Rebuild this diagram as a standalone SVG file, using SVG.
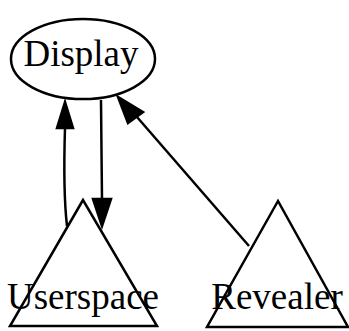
<svg xmlns="http://www.w3.org/2000/svg" width="349" height="331" viewBox="0 0 349 331">
  <defs>
    <style>
      .shape { fill: #ffffff; stroke: #000000; stroke-width: 2.5; }
      .edge { fill: none; stroke: #000000; stroke-width: 2.5; }
      .head { fill: #000000; stroke: #000000; stroke-width: 2.5; stroke-linejoin: miter; }
      .label { font-family: "Liberation Serif", "Times New Roman", serif; font-size: 37px; fill: #000000; text-anchor: middle; }
    </style>
  </defs>
  <rect width="349" height="331" fill="#ffffff"/>
  <g id="edges">
    <!-- Userspace -> Display -->
    <path class="edge" d="M67,226 C64,200 64,160 65,128"/>
    <polygon class="head" points="65,102 57,128 73,128"/>
    <!-- Display -> Userspace -->
    <path class="edge" d="M101,100 C101,130 102,170 102,199"/>
    <polygon class="head" points="102,226 93,199 111,199"/>
    <!-- Revealer -> Display -->
    <path class="edge" d="M249,246 L137,117"/>
    <polygon class="head" points="118,97 128,123 143,112"/>
  </g>
  <g id="display">
    <ellipse class="shape" cx="83" cy="59" rx="72" ry="40"/>
    <text class="label" x="81" y="66">Display</text>
  </g>
  <g id="userspace">
    <polygon class="shape" points="83,200 10,326 157,326"/>
    <text class="label" x="83" y="309">Userspace</text>
  </g>
  <g id="revealer">
    <polygon class="shape" points="278,201 207,327 348,327"/>
    <text class="label" x="277" y="309">Revealer</text>
  </g>
</svg>
